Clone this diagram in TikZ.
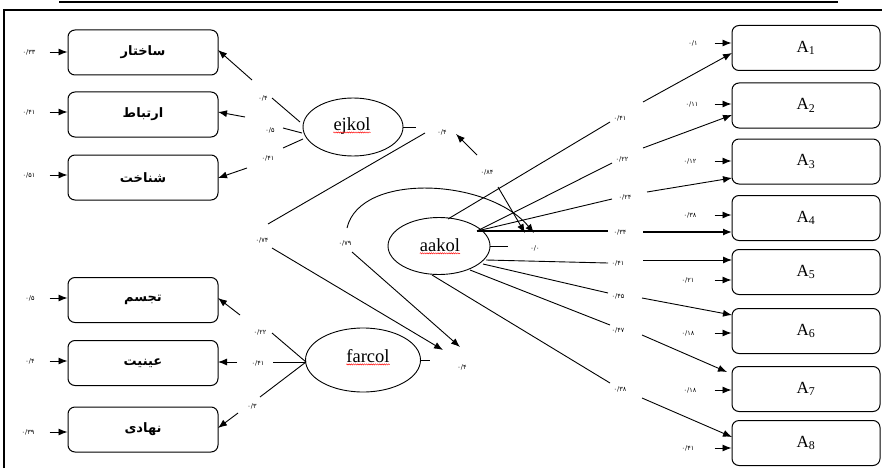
\documentclass[tikz,border=0pt]{standalone}
\usepackage{fontspec}
\setmainfont{Liberation Serif}
\newfontfamily\arabicfont[Script=Arabic]{DejaVu Sans}
\TeXXeTstate=1
\usetikzlibrary{shapes.geometric,arrows.meta,decorations.pathmorphing,calc}
\begin{document}
\begin{tikzpicture}[x=1pt,y=-1pt,
 box/.style={draw, rounded corners=7pt, line width=1pt, minimum width=150pt, minimum height=45pt, inner sep=0pt},
 pbox/.style={box, font=\arabicfont\bfseries\fontsize{13}{15}\selectfont},
 abox/.style={box, minimum width=148pt, font=\fontsize{17}{19}\selectfont},
 lat/.style={draw, ellipse, line width=0.9pt, inner sep=0pt},
 num/.style={font=\arabicfont\fontsize{6.5}{7}\selectfont, inner sep=0pt},
 lbl/.style={font=\fontsize{18.5}{20}\selectfont, inner sep=0pt},
 con/.style={line width=0.9pt},
 arr/.style={con, -{Latex[length=9pt,width=7pt]}},
 wavy/.style={red, line width=0.45pt, decorate, decoration={snake, amplitude=0.6pt, segment length=2.2pt}}
]
\useasboundingbox (0,0) rectangle (882,468);
% frame
\draw[line width=2pt] (59,2) -- (838,2);
\draw[line width=2.2pt] (4,468) -- (4,10) -- (882,10);

% left boxes
\node[pbox] (s1) at (143,52.5) {\beginR ساختار\endR};
\node[pbox] (s2) at (143,114.5) {\beginR ارتباط\endR};
\node[pbox] (s3) at (143,177.5) {\beginR شناخت\endR};
\node[pbox] (s4) at (143,300) {\beginR تجسم\endR};
\node[pbox] (s5) at (143,363) {\beginR عینیت\endR};
\node[pbox] (s6) at (143,429.5) {\beginR نهادی\endR};

% right boxes
\node[abox] (A1) at (806,48) {A\textsubscript{1}};
\node[abox] (A2) at (806,105.5) {A\textsubscript{2}};
\node[abox] (A3) at (806,161.5) {A\textsubscript{3}};
\node[abox] (A4) at (806,218) {A\textsubscript{4}};
\node[abox] (A5) at (806,272) {A\textsubscript{5}};
\node[abox] (A6) at (806,331) {A\textsubscript{6}};
\node[abox] (A7) at (806,389) {A\textsubscript{7}};
\node[abox] (A8) at (806,443) {A\textsubscript{8}};

% left error terms
\node[num] (e1) at (29,52) {۰/۳۳};
\node[num] (e2) at (29,112) {۰/۴۱};
\node[num] (e3) at (29,175) {۰/۵۱};
\node[num] (e4) at (30,298) {۰/۵};
\node[num] (e5) at (30,361) {۰/۴};
\node[num] (e6) at (28,432) {۰/۳۹};
\foreach \e/\s in {e1/s1,e2/s2,e3/s3,e4/s4,e5/s5,e6/s6}
  \draw[arr] ($(\s.west |- \e)+(-18,0)$) -- (\s.west |- \e);

% right error terms
\node[num] (f1) at (693,43) {۰/۱};
\node[num] (f2) at (692,104) {۰/۱۱};
\node[num] (f3) at (690,161) {۰/۱۲};
\node[num] (f4) at (690,215) {۰/۳۸};
\node[num] (f5) at (688,280) {۰/۲۱};
\node[num] (f6) at (688,333) {۰/۱۸};
\node[num] (f7) at (690,390) {۰/۱۸};
\node[num] (f8) at (688,448) {۰/۴۱};
\foreach \e/\s in {f1/A1,f2/A2,f3/A3,f4/A4,f5/A5,f6/A6,f7/A7,f8/A8}
  \draw[arr] ($(\s.west |- \e)+(-17,0)$) -- (\s.west |- \e);

% latent variables
\node[lat, minimum width=100pt, minimum height=58pt] (ejkol) at (353,127) {};
\node[lbl] (tj) at (352,126) {ejkol};
\draw[wavy] ($(tj.base west)+(0,2)$) -- ($(tj.base east)+(0,2)$);
\node[lat, minimum width=102pt, minimum height=57pt] (aakol) at (439,246) {};
\node[lbl] (ta) at (440,245) {aakol};
\draw[wavy] ($(ta.base west)+(0,2)$) -- ($(ta.base east)+(0,2)$);
\node[lat, minimum width=115pt, minimum height=64pt] (farcol) at (363,360) {};
\node[lbl] (tf) at (368,356) {farcol};
\draw[wavy] ($(tf.base west)+(0,2)$) -- ($(tf.base east)+(0,2)$);

% latent error terms
\node[num] (uj) at (442,132) {۰/۴};
\draw[con] (ejkol.east) -- ++(13,0);
\node[num] (uf) at (462,367) {۰/۴};
\draw[con] (farcol.east) -- ++(9,0);
\node[num] (ua) at (535,248) {۰/۰};
\draw[con] (aakol.east) -- ++(18,0);

% ejkol loadings
\node[num] (l1) at (263,98) {۰/۴};
\node[num] (l2) at (270,130) {۰/۵};
\node[num] (l3) at (268,158) {۰/۴۱};
\coordinate (j1a) at (300,122); \coordinate (j1b) at (272,98);
\coordinate (j1c) at (252,80);  \coordinate (j1d) at (218,50);
\coordinate (j2a) at (302,133); \coordinate (j2b) at (283,128);
\coordinate (j2c) at (245,117); \coordinate (j2d) at (218,112);
\coordinate (j3a) at (303,139); \coordinate (j3b) at (283,148);
\coordinate (j3c) at (247,168); \coordinate (j3d) at (218,178);
\draw[con] (j1a) -- (j1b); \draw[arr] (j1c) -- (j1d);
\draw[con] (j2a) -- (j2b); \draw[arr] (j2c) -- (j2d);
\draw[con] (j3a) -- (j3b); \draw[arr] (j3c) -- (j3d);

% farcol loadings
\node[num] (l4) at (260,332) {۰/۲۲};
\node[num] (l5) at (258,363) {۰/۴۱};
\node[num] (l6) at (252,406) {۰/۳};
\coordinate (k0) at (306,362);
\coordinate (k1b) at (272,333); \coordinate (k1c) at (240,315); \coordinate (k1d) at (218,298);
\coordinate (k2b) at (273,362); \coordinate (k2c) at (237,362); \coordinate (k2d) at (218,362);
\coordinate (k3b) at (260,397); \coordinate (k3c) at (238,413); \coordinate (k3d) at (218,428);
\draw[con] (k0) -- (k1b); \draw[arr] (k1c) -- (k1d);
\draw[con] (k0) -- (k2b); \draw[arr] (k2c) -- (k2d);
\draw[con] (k0) -- (k3b); \draw[arr] (k3c) -- (k3d);

% correlations between error terms
\node[num] (r74) at (262,240) {۰/۷۴};
\coordinate (r74a) at (425,133); \coordinate (r74b) at (268,224);
\coordinate (r74c) at (272,248); \coordinate (r74d) at (443,350);
\draw[con] (r74a) -- (r74b);
\draw[arr] (r74c) -- (r74d);
\node[num] (r79) at (345,243) {۰/۷۹};
\coordinate (r79a) at (347,228); \coordinate (r79b) at (534,233);
\coordinate (r79c) at (352,252); \coordinate (r79d) at (460,347);
\draw[arr] (r79a) .. controls (360,172) and (488,178) .. (r79b);
\draw[arr] (r79c) -- (r79d);
\node[num] (r84) at (487,172) {۰/۸۴};
\coordinate (r84a) at (477,155); \coordinate (r84b) at (456,134);
\coordinate (r84c) at (498,187); \coordinate (r84d) at (525,233);
\draw[arr] (r84a) -- (r84b);
\draw[arr] (r84c) -- (r84d);

% aakol loadings
\node[num] (m1) at (620,118) {۰/۴۱};
\node[num] (m2) at (622,159) {۰/۲۲};
\node[num] (m3) at (625,197) {۰/۲۴};
\node[num] (m4) at (620,232) {۰/۳۴};
\node[num] (m5) at (618,263) {۰/۴۱};
\node[num] (m6) at (618,296) {۰/۴۵};
\node[num] (m7) at (618,330) {۰/۴۷};
\node[num] (m8) at (620,389) {۰/۳۸};
\coordinate (o1) at (448,219);
\coordinate (o2) at (477,231);
\coordinate (o5) at (486,260);
\coordinate (o6) at (483,264);
\coordinate (o7) at (470,270);
\coordinate (o8) at (432,275);
\coordinate (p1) at (610,122); \coordinate (q1) at (643,102); \coordinate (t1) at (732,53);
\coordinate (p2) at (612,163); \coordinate (q2) at (643,148); \coordinate (t2) at (732,115);
\coordinate (p3) at (612,199); \coordinate (q3) at (647,192); \coordinate (t3) at (732,178);
\coordinate (p4) at (608,231); \coordinate (q4) at (643,232); \coordinate (t4) at (732,232);
\coordinate (p5) at (608,263); \coordinate (q5) at (643,260); \coordinate (t5) at (732,260);
\coordinate (p6) at (608,293); \coordinate (q6) at (642,298); \coordinate (t6) at (732,315);
\coordinate (p7) at (610,325); \coordinate (q7) at (642,335); \coordinate (t7) at (727,372);
\coordinate (p8) at (610,383); \coordinate (q8) at (642,398); \coordinate (t8) at (732,437);
\draw[con] (o1) -- (p1); \draw[arr] (q1) -- (t1);
\draw[con] (o2) -- (p2); \draw[arr] (q2) -- (t2);
\draw[con] (o2) -- (p3); \draw[arr] (q3) -- (t3);
\draw[con, line width=1.3pt] (o2) -- (p4); \draw[arr, line width=1.3pt] (q4) -- (t4);
\draw[con] (o5) -- (p5); \draw[arr] (q5) -- (t5);
\draw[con] (o6) -- (p6); \draw[arr] (q6) -- (t6);
\draw[con] (o7) -- (p7); \draw[arr] (q7) -- (t7);
\draw[con] (o8) -- (p8); \draw[arr] (q8) -- (t8);
\end{tikzpicture}
\end{document}
